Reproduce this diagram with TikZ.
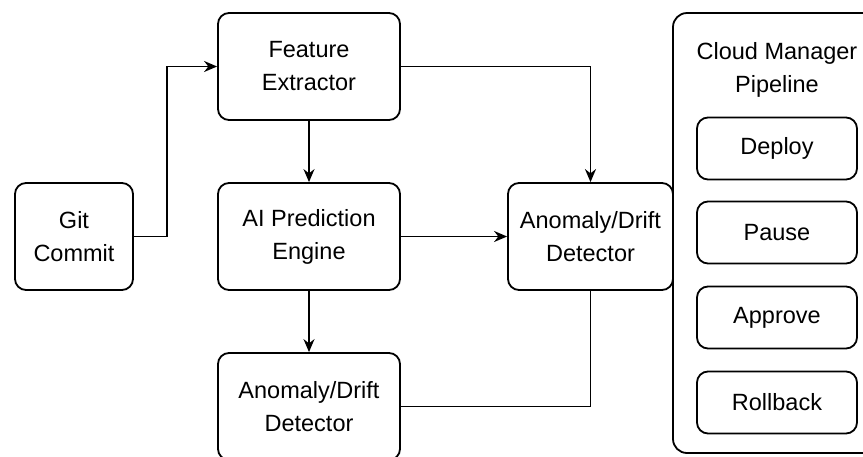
\documentclass[tikz,border=0pt]{standalone}
\usepackage{fontspec}
\setmainfont{Liberation Sans}
\usetikzlibrary{arrows.meta}

\begin{document}
\begin{tikzpicture}[x=1pt,y=-1pt,
		box/.style={draw, line width=1.8pt, rounded corners=11pt, align=center,
			inner sep=0pt, font=\fontsize{23.5}{33}\selectfont},
		bigbox/.style={box, minimum width=182pt, minimum height=107pt},
		smallbox/.style={box, minimum width=160pt, minimum height=62pt},
		arr/.style={line width=1.8pt, -{Stealth[length=13pt,width=11pt]}},
		link/.style={line width=1.8pt}]
		% frame of the picture
		\useasboundingbox (0,0) rectangle (863,456);
		\clip (0,0) rectangle (863,456);

		% pipeline panel, cut off on the right
		\draw[line width=1.8pt, rounded corners=14pt] (673,13) rectangle (900,453);
		\node[font=\fontsize{23.5}{33}\selectfont, align=center] (title) at (777,70) {Cloud Manager\\Pipeline};
		\node[smallbox] (deploy) at (777,148.5) {Deploy};
		\node[smallbox] (pause) at (777,232.5) {Pause};
		\node[smallbox] (approve) at (777,317.5) {Approve};
		\node[smallbox] (rollback) at (777,402.5) {Rollback};

		% main blocks
		\node[box, minimum width=118pt, minimum height=107pt] (git) at (74,236.5) {Git\\Commit};
		\node[bigbox] (feat) at (309,66.5) {Feature\\Extractor};
		\node[bigbox] (ai) at (309,236.5) {AI Prediction\\Engine};
		\node[bigbox] (det1) at (309,406.5) {Anomaly/Drift\\Detector};
		\node[box, minimum width=165pt, minimum height=107pt] (det2) at (590.5,236.5) {Anomaly/Drift\\Detector};

		% connectors
		\draw[arr] (git.east) -- ++(33,0) |- (feat.west);
		\draw[arr] (feat) -- (ai);
		\draw[arr] (feat.east) -| (det2.north);
		\draw[arr] (ai) -- (det2);
		\draw[arr] (ai) -- (det1);
		\draw[link] (det1.east) -| (det2.south);
	\end{tikzpicture}
\end{document}
